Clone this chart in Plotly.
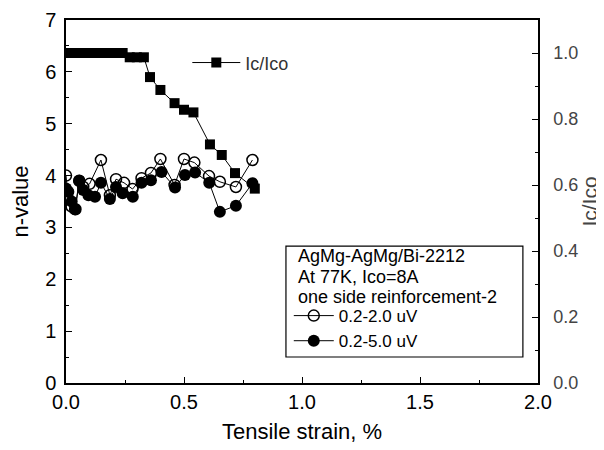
import plotly.graph_objects as go

# Ic/Ico data (right axis)
ic_strain = [0.0, 0.02, 0.04, 0.06, 0.08, 0.10, 0.12, 0.14, 0.16, 0.18, 0.20, 0.22, 0.24,
             0.27, 0.30, 0.33, 0.356, 0.40, 0.46, 0.50, 0.54, 0.61, 0.66, 0.716, 0.80]
ic_ratio = [1.0, 1.0, 1.0, 1.0, 1.0, 1.0, 1.0, 1.0, 1.0, 1.0, 1.0, 1.0, 1.0,
            0.987, 0.987, 0.987, 0.927, 0.888, 0.848, 0.828, 0.82, 0.723, 0.691, 0.636, 0.589]

# n-value, 0.2-2.0 uV criterion (open circles)
n1_strain = [0.0, 0.01, 0.024, 0.04, 0.056, 0.073, 0.10, 0.148, 0.186, 0.212, 0.246, 0.282,
             0.32, 0.36, 0.40, 0.46, 0.50, 0.544, 0.606, 0.652, 0.72, 0.79]
n1_value = [4.0, 3.55, 3.4, 3.35, 3.9, 3.78, 3.84, 4.30, 3.62, 3.93, 3.86, 3.74,
            3.95, 4.05, 4.32, 3.82, 4.32, 4.25, 3.99, 3.88, 3.78, 4.30]

# n-value, 0.2-5.0 uV criterion (filled circles)
n2_strain = [0.0, 0.01, 0.024, 0.038, 0.056, 0.073, 0.095, 0.123, 0.148, 0.186, 0.212, 0.24,
             0.283, 0.32, 0.36, 0.405, 0.462, 0.504, 0.547, 0.607, 0.652, 0.72, 0.79]
n2_value = [3.75, 3.69, 3.5, 3.35, 3.9, 3.72, 3.62, 3.59, 3.86, 3.55, 3.78, 3.66,
            3.59, 3.86, 3.91, 4.07, 3.77, 4.01, 4.06, 3.86, 3.30, 3.42, 3.85]

x_ticks = [0.0, 0.5, 1.0, 1.5, 2.0]
info_lines = ["AgMg-AgMg/Bi-2212", "At 77K, Ico=8A", "one side reinforcement-2"]

FONT = "Liberation Sans, Arial, sans-serif"

fig = go.Figure()
fig.add_trace(go.Scatter(
    x=n1_strain, y=n1_value, mode="lines+markers", name="0.2-2.0 uV",
    line=dict(color="black", width=1),
    marker=dict(symbol="circle-open", size=11, color="black", line=dict(width=1.5)),
    legend="legend"))
fig.add_trace(go.Scatter(
    x=n2_strain, y=n2_value, mode="lines+markers", name="0.2-5.0 uV",
    line=dict(color="black", width=1),
    marker=dict(symbol="circle", size=12, color="black"),
    legend="legend"))
fig.add_trace(go.Scatter(
    x=ic_strain, y=ic_ratio, mode="lines+markers", name="Ic/Ico", yaxis="y2",
    line=dict(color="black", width=1),
    marker=dict(symbol="square", size=10, color="black"),
    legend="legend2"))

# Legend box frame and information lines
fig.add_shape(type="rect", xref="paper", yref="paper",
              x0=0.466, x1=0.968, y0=0.0716, y1=0.377,
              line=dict(color="black", width=1.2), fillcolor="white", layer="below")
info_y = [0.350, 0.292, 0.237]
for txt, yy in zip(info_lines, info_y):
    fig.add_annotation(xref="paper", yref="paper", x=0.487, y=yy,
                       xanchor="left", yanchor="middle", showarrow=False,
                       text=txt, font=dict(size=18, color="black"))

fig.update_layout(
    width=596, height=442,
    margin=dict(l=58, r=66, t=12, b=67, autoexpand=False),
    paper_bgcolor="white", plot_bgcolor="white",
    font=dict(family=FONT, color="black", size=18),
    xaxis=dict(range=[0, 2.0], tickvals=x_ticks, tickformat=".1f", automargin=False,
               showline=True, linecolor="black", linewidth=1.5, mirror=True,
               ticks="inside", ticklen=6, tickcolor="black", showgrid=False, zeroline=False,
               minor=dict(dtick=0.25, ticks="inside", ticklen=3, tickcolor="black"),
               tickfont=dict(size=20),
               title=dict(text="Tensile strain, %", font=dict(size=22), standoff=12)),
    yaxis=dict(range=[0, 7], dtick=1, showline=True, linecolor="black", linewidth=1.5,
               automargin=False,
               ticks="inside", ticklen=6, tickcolor="black", showgrid=False, zeroline=False,
               minor=dict(dtick=0.5, ticks="inside", ticklen=3, tickcolor="black"),
               tickfont=dict(size=20), ticklabelstandoff=4,
               title=dict(text="n-value", font=dict(size=22), standoff=12)),
    yaxis2=dict(range=[0, 1.1], dtick=0.2, tickformat=".1f", overlaying="y", side="right",
                showline=True, linecolor="black", linewidth=1.5, automargin=False,
                ticks="inside", ticklen=6, tickcolor="black", showgrid=False, zeroline=False,
                minor=dict(dtick=0.1, ticks="inside", ticklen=3, tickcolor="black"),
                tickfont=dict(size=18, color="#444"), ticklabelstandoff=10,
                title=dict(text="Ic/Ico", font=dict(size=21, color="#444"), standoff=0)),
    legend=dict(x=0.472, y=0.234, xanchor="left", yanchor="top",
                borderwidth=0, bgcolor="rgba(0,0,0,0)", itemwidth=40,
                font=dict(size=17), tracegroupgap=0),
    legend2=dict(x=0.257, y=0.882, xanchor="left", yanchor="middle",
                 borderwidth=0, bgcolor="rgba(0,0,0,0)", itemwidth=48,
                 font=dict(size=18, color="#333")),
)

fig.write_html("out.html")
